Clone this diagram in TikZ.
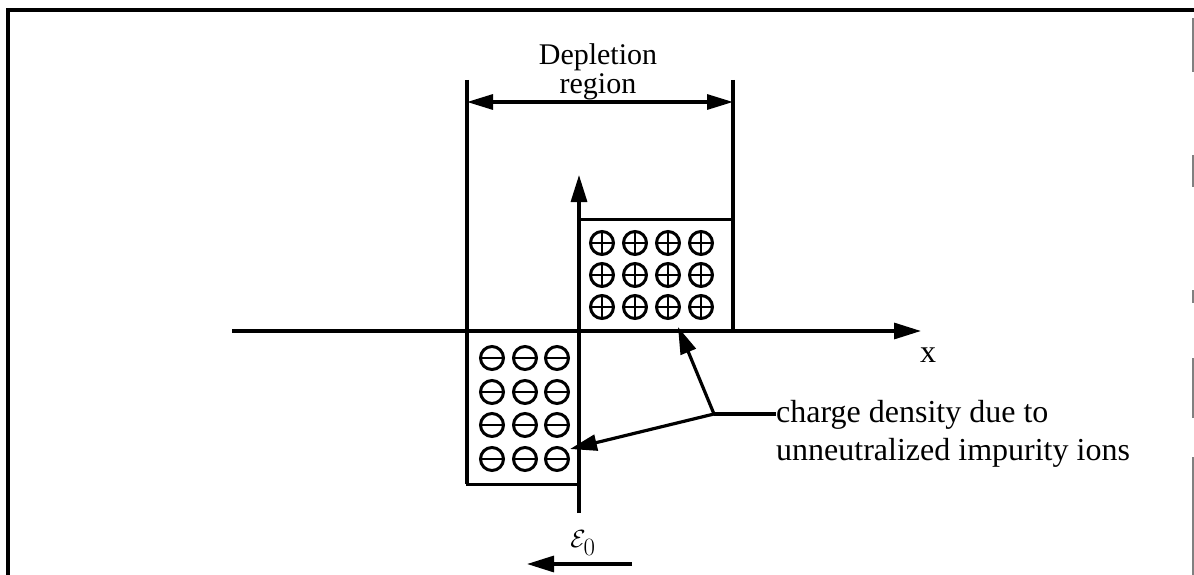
\documentclass[tikz,border=0pt]{standalone}
\usepackage{fontspec}
\setmainfont{Liberation Serif}
\usetikzlibrary{arrows.meta}
\begin{document}
\begin{tikzpicture}[x=1pt,y=-1pt,
  line/.style={line width=3.2pt},
  tip/.style={-{Triangle[length=27pt,width=16pt]}},
  lbl/.style={font=\fontsize{32}{38}\selectfont, inner sep=0pt},
  deplbl/.style={font=\fontsize{30}{34}\selectfont, inner sep=0pt},
  boxn/.style={draw, line width=3pt, inner sep=0pt, outer sep=0pt},
  ion/.style={circle, draw, line width=3pt, minimum size=23pt, inner sep=0pt},
  plusion/.style={ion, path picture={\draw[line width=2.4pt] (path picture bounding box.north) -- (path picture bounding box.south) (path picture bounding box.west) -- (path picture bounding box.east);}},
  minusion/.style={ion, path picture={\draw[line width=2.4pt] (path picture bounding box.west) -- (path picture bounding box.east);}}
]
\useasboundingbox (0,0) rectangle (1194,575);
% frame
\draw[line] (8,575) -- (8,10) -- (1194,10);
\draw[gray, line width=1.5pt] (1193,18) -- (1193,72) (1193,155) -- (1193,187) (1193,290) -- (1193,303) (1193,358) -- (1193,418) (1193,457) -- (1193,525) (1193,503) -- (1193,575);
% charge boxes
\node[boxn, minimum width=154pt, minimum height=112pt] (pbox) at (656,275) {};
\node[boxn, minimum width=112pt, minimum height=153pt] (nbox) at (523,407.5) {};
% depletion lines
\coordinate (dlt) at (467,80);
\coordinate (drt) at (733,80);
\draw[line] (dlt) -- (nbox.south west);
\draw[line] (drt) -- (pbox.south east);
\coordinate (dl) at (467,102);
\coordinate (dr) at (733,102);
\draw[line, {Triangle[length=26pt,width=15pt]}-{Triangle[length=26pt,width=15pt]}] (dl) -- (dr);
\node[deplbl, anchor=base] (dep1) at (598,65) {Depletion};
\node[deplbl, anchor=base] (dep2) at (598,94) {region};
% axes
\coordinate (xs) at (232,331);
\coordinate (xe) at (921,331);
\coordinate (ys) at (579,513);
\coordinate (ye) at (579,175);
\draw[line, tip] (xs) -- (xe);
\draw[line, tip] (ys) -- (ye);
\node[lbl, anchor=base] (xl) at (928,362) {x};
% ions
\foreach \c [count=\i] in {602,635,668,701}
  \foreach \r [count=\j] in {243,275,307}
    \node[plusion] (p-\i-\j) at (\c,\r) {};
\foreach \c [count=\i] in {492,525,557}
  \foreach \r [count=\j] in {358,392,425,459}
    \node[minusion] (n-\i-\j) at (\c,\r) {};
% annotation
\coordinate (jn) at (714,414);
\coordinate (a1) at (678,327);
\coordinate (a2) at (570,449);
\node[lbl, anchor=base west] (cd1) at (776,422) {charge density due to};
\node[lbl, anchor=base west] (cd2) at (776,460) {unneutralized impurity ions};
\draw[line] (jn) -- (jn -| cd1.west);
\draw[line, tip] (jn) -- (a1);
\draw[line, tip] (jn) -- (a2);
% field
\node[inner sep=0pt, font=\fontsize{34}{36}\selectfont] (E0) at (583,543) {$\mathcal{E}_0$};
\coordinate (es) at (632,564);
\coordinate (ee) at (527,564);
\draw[line, tip] (es) -- (ee);
\end{tikzpicture}
\end{document}
